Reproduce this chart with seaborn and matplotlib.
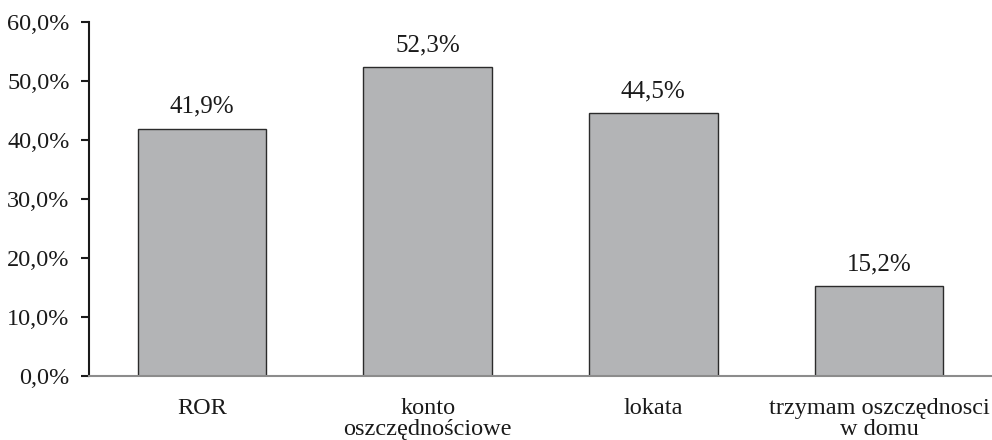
import matplotlib
matplotlib.use("Agg")
import matplotlib.pyplot as plt
import seaborn as sns
import pandas as pd
from matplotlib.ticker import FuncFormatter

categories = ["ROR", "konto\noszczędnościowe", "lokata", "trzymam oszczędnosci\nw domu"]
values = [41.9, 52.3, 44.5, 15.2]

sns.set_theme(style="white")
plt.rcParams['font.family'] = ['Liberation Serif', 'DejaVu Serif']

df = pd.DataFrame({"cat": categories, "val": values})

fig = plt.figure(figsize=(9.92, 4.4), dpi=100)
ax = fig.add_axes([0.0897, 0.1455, 0.9103, 0.8045])
sns.barplot(data=df, x="cat", y="val", ax=ax, color="#b3b4b6", saturation=1,
            width=0.57, edgecolor="#2b2b2b", linewidth=1.0)

ax.set_xlim(-0.5, 3.5)
ax.set_ylim(0, 60)
ax.set_yticks([0, 10, 20, 30, 40, 50, 60])
ax.yaxis.set_major_formatter(FuncFormatter(lambda v, p: f"{v:.1f}%".replace(".", ",")))
ax.set_xlabel("")
ax.set_ylabel("")

for i, v in enumerate(values):
    ax.annotate(f"{v:.1f}%".replace(".", ","), (i, v), xytext=(0, 8),
                textcoords="offset points", ha="center", va="bottom",
                fontsize=18, color="#1a1a1a")

ax.spines["top"].set_visible(False)
ax.spines["right"].set_visible(False)
ax.spines["left"].set_color("#1a1a1a")
ax.spines["left"].set_linewidth(1.5)
ax.spines["bottom"].set_color("#8c8c8c")
ax.spines["bottom"].set_linewidth(1.5)

ax.tick_params(axis="y", left=True, length=6, width=1.5, color="#1a1a1a",
               labelsize=17.5, labelcolor="#1a1a1a", pad=8)
ax.tick_params(axis="x", bottom=False, labelsize=17.5, labelcolor="#1a1a1a", pad=10)
for lbl in ax.get_xticklabels():
    lbl.set_linespacing(1.0)

fig.savefig("out.png", dpi=100)
